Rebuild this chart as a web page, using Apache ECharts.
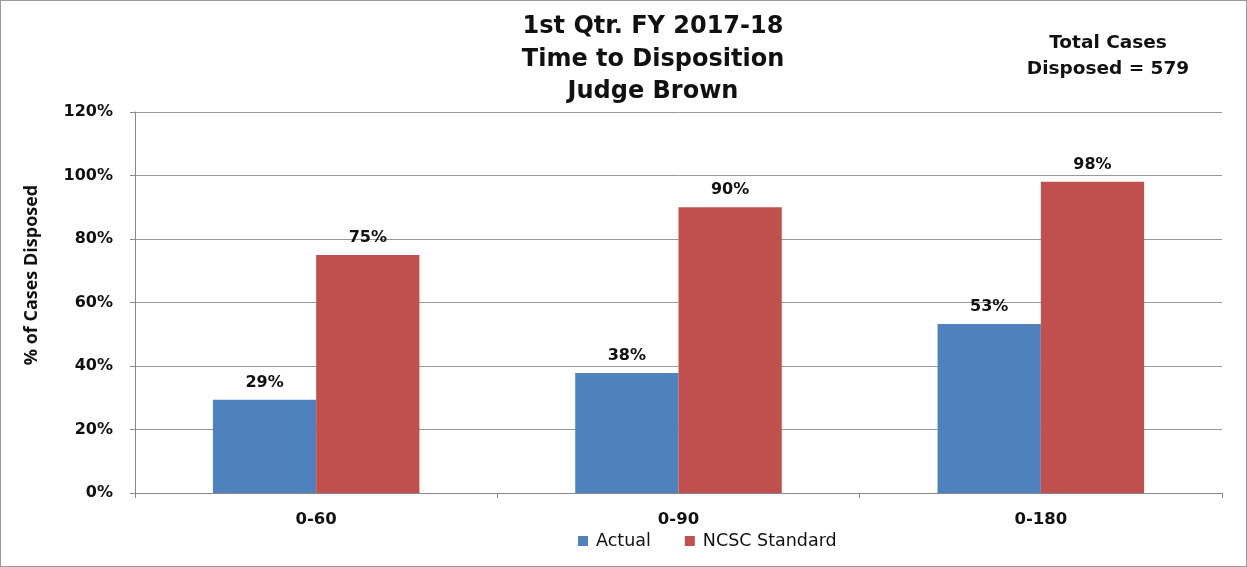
<!DOCTYPE html>
<html><head><meta charset="utf-8">
<script src="https://cdn.jsdelivr.net/npm/echarts@6/dist/echarts.min.js"></script>
<style>html,body{margin:0;padding:0;background:#fff}#c{width:1247px;height:567px;box-sizing:border-box;border:1px solid #9a9a9a;}</style>
</head><body><div id="c"></div>
<script>
var categories = ['0-60', '0-90', '0-180'];
var actual = [29.4, 37.8, 53.2];
var ncsc = [75, 90, 98];
var yTicks = [0, 20, 40, 60, 80, 100, 120];
var titleLines = ['1st Qtr. FY 2017-18', 'Time to Disposition', 'Judge Brown'];
var noteLines = ['Total Cases', 'Disposed = 579'];
var yName = '% of Cases Disposed';

var chart = echarts.init(document.getElementById('c'));
var lbl = {show: true, position: 'top', distance: 9, color: '#111', fontFamily: 'DejaVu Sans', fontWeight: 'bold', fontSize: 16,
  formatter: function (p) { return Math.round(p.value) + '%'; }};
chart.setOption({
  animation: false,
  title: {text: titleLines.join('\n'), left: 647, top: 5, textAlign: 'center',
    textStyle: {fontFamily: 'DejaVu Sans', fontWeight: 'bold', fontSize: 24, lineHeight: 32.5, color: '#111'}},
  graphic: [
    {type: 'text', x: 1107, y: 29, z: 10, style: {text: noteLines.join('\n'), align: 'center', verticalAlign: 'top',
      font: 'bold 18.5px "DejaVu Sans"', lineHeight: 26, fill: '#111'}},
    {type: 'text', x: 31, y: 274, rotation: Math.PI / 2, z: 10, style: {text: yName, align: 'center', verticalAlign: 'middle',
      font: 'bold 18px "Open Sans"', fill: '#111'}}
  ],
  legend: {data: ['Actual', 'NCSC Standard'], left: 572, top: 526, itemWidth: 10, itemHeight: 10, itemGap: 34, icon: 'rect',
    textStyle: {fontFamily: 'DejaVu Sans', fontSize: 17.5, color: '#111', padding: [0, 0, 0, 3]}},
  grid: {left: 134, right: 24, top: 111, bottom: 73, containLabel: false},
  xAxis: {type: 'category', data: categories,
    axisLine: {lineStyle: {color: '#888'}}, axisTick: {show: true, length: 5, lineStyle: {color: '#888'}},
    axisLabel: {color: '#111', fontFamily: 'DejaVu Sans', fontWeight: 'bold', fontSize: 16.5, margin: 18}},
  yAxis: {type: 'value', min: 0, max: 120, interval: 20,
    axisLine: {show: true, lineStyle: {color: '#888'}}, axisTick: {show: true, length: 5, lineStyle: {color: '#888'}},
    splitLine: {lineStyle: {color: '#999', width: 1}},
    axisLabel: {color: '#111', fontFamily: 'DejaVu Sans', fontWeight: 'bold', fontSize: 16, margin: 22,
      formatter: function (v) { return yTicks.indexOf(v) >= 0 ? v + '%' : ''; }}},
  series: [
    {name: 'Actual', type: 'bar', data: actual, itemStyle: {color: '#4f81bd'}, barGap: '0%', barCategoryGap: '43%', label: lbl},
    {name: 'NCSC Standard', type: 'bar', data: ncsc, itemStyle: {color: '#c0504d'}, label: lbl}
  ]
});
</script></body></html>
